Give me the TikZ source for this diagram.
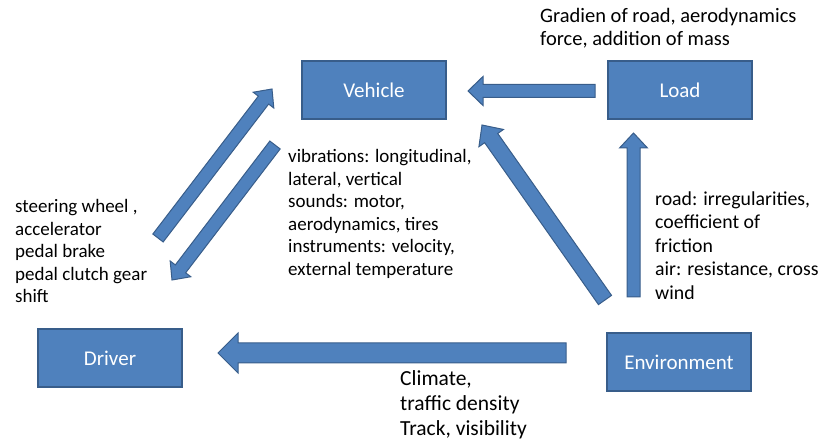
\documentclass[tikz,border=0pt]{standalone}
\usepackage{fontspec}
\setmainfont{Carlito}
\usetikzlibrary{calc}

\definecolor{boxfill}{RGB}{79,129,189}
\definecolor{boxline}{RGB}{56,93,138}

\tikzset{
  unitbox/.style={draw=boxline, fill=boxfill, line width=1.5pt, minimum width=144pt, minimum height=58pt, inner sep=0pt, text=white, font=\fontsize{21}{24}\selectfont},
  blockarrow/.style={draw=boxline, fill=boxfill, line width=1pt, line join=miter},
  notetext/.style={anchor=north west, inner sep=0pt, align=left, font=\fontsize{19}{22.5}\selectfont},
  bignote/.style={notetext, font=\fontsize{20.5}{23.5}\selectfont}
}

% block arrow: tail, tip, half shaft, half head, head length
\newcommand{\blockarrow}[5]{%
  \coordinate (ba-base) at ($(#2)!#5!(#1)$);
  \draw[blockarrow] ($(#1)!#3!90:(#2)$) -- ($(ba-base)!#3!90:(#2)$) -- ($(ba-base)!#4!90:(#2)$) -- (#2)
    -- ($(ba-base)!#4!-90:(#2)$) -- ($(ba-base)!#3!-90:(#2)$) -- ($(#1)!#3!-90:(#2)$) -- cycle;}

\begin{document}
\begin{tikzpicture}[x=1pt,y=1pt,yscale=-1,xscale=1]
\useasboundingbox (0,0) rectangle (823,443);

% Boxes
\node[unitbox] (vehicle) at (374,90) {Vehicle};
\node[unitbox] (load) at (680,90) {Load};
\node[unitbox] (driver) at (110,358) {Driver};
\node[unitbox] (environment) at (679,362) {Environment};

% Arrow ends
\coordinate (drvTail) at (158,238);
\coordinate (drvTip) at (272,89);
\coordinate (vehTail) at (275,145);
\coordinate (vehTip) at (172,280);
\coordinate (loadTail) at (595,91);
\coordinate (loadTip) at (468,91);
\coordinate (envVTail) at (605,300);
\coordinate (envVTip) at (482,125);
\coordinate (envLTail) at (633.5,297);
\coordinate (envLTip) at (633.5,133);
\coordinate (envDTail) at (566,353);
\coordinate (envDTip) at (218,353);

% Block arrows
\blockarrow{drvTail}{drvTip}{6.5pt}{13pt}{14pt}
\blockarrow{vehTail}{vehTip}{6.5pt}{13pt}{14pt}
\blockarrow{loadTail}{loadTip}{6.5pt}{14.5pt}{15pt}
\blockarrow{envVTail}{envVTip}{8pt}{15pt}{16pt}
\blockarrow{envLTail}{envLTip}{6.5pt}{14pt}{15pt}
\blockarrow{envDTail}{envDTip}{10pt}{20pt}{20pt}

% Text Node
\node[bignote] (loadnote) at (540,8) {Gradien of road, aerodynamics\\force, addition of mass};
% Text Node
\node[notetext] (drivernote) at (15,199.5) {steering wheel ,\\accelerator\\pedal brake\\pedal clutch gear\\shift};
% Text Node
\node[notetext] (vehiclenote) at (288,149.5) {vibrations: longitudinal,\\lateral, vertical\\sounds: motor,\\aerodynamics, tires\\instruments: velocity,\\external temperature};
% Text Node
\node[notetext, font=\fontsize{19.8}{23.5}\selectfont] (envnote) at (655,191.5) {road: irregularities,\\coefficient of\\friction\\air: resistance, cross\\wind};
% Text Node
\node[notetext, font=\fontsize{21.5}{25}\selectfont] (climatenote) at (400,370) {Climate,\\traffic density\\Track, visibility};

\end{tikzpicture}
\end{document}
